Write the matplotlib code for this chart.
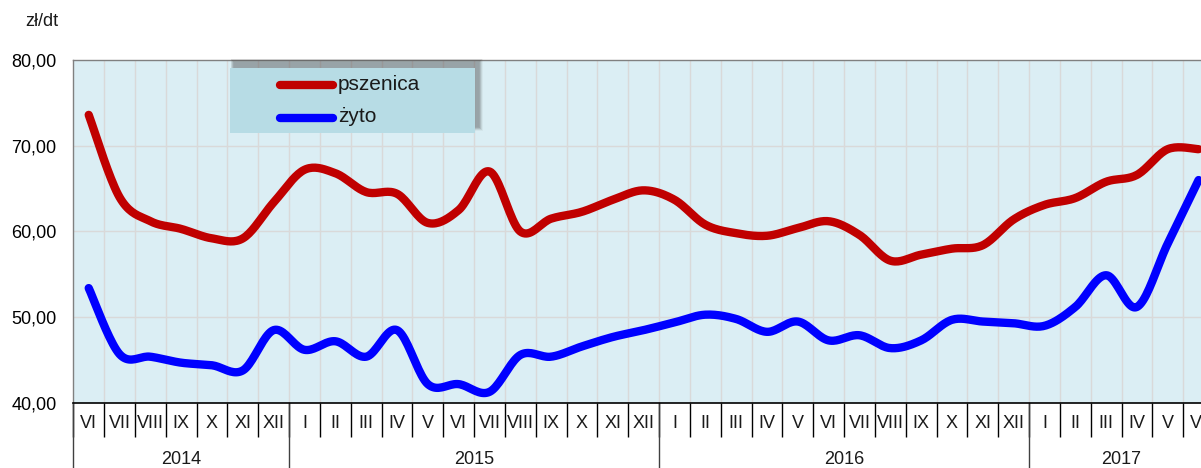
import numpy as np
import matplotlib
matplotlib.use('Agg')
import matplotlib.pyplot as plt
from matplotlib.transforms import blended_transform_factory
from matplotlib.patches import Rectangle
from matplotlib.lines import Line2D

plt.rcParams['font.family'] = ['Liberation Sans', 'DejaVu Sans']

# ---------------- data ----------------
months = ['VI', 'VII', 'VIII', 'IX', 'X', 'XI', 'XII',
          'I', 'II', 'III', 'IV', 'V', 'VI', 'VII', 'VIII', 'IX', 'X', 'XI', 'XII',
          'I', 'II', 'III', 'IV', 'V', 'VI', 'VII', 'VIII', 'IX', 'X', 'XI', 'XII',
          'I', 'II', 'III', 'IV', 'V', 'VI']
years = ['2014', '2015', '2016', '2017']
year_counts = [7, 12, 12, 6]

pszenica = [73.6, 64.0, 61.2, 60.3, 59.2, 59.2, 63.4,
            67.2, 66.8, 64.6, 64.4, 61.0, 62.5, 67.0, 60.0, 61.5, 62.3, 63.7, 64.8,
            63.7, 60.8, 59.8, 59.5, 60.4, 61.2, 59.6, 56.6, 57.3, 58.0, 58.4, 61.4,
            63.1, 63.9, 65.8, 66.6, 69.6, 69.6]
zyto = [53.4, 45.7, 45.4, 44.7, 44.4, 43.8, 48.5,
        46.2, 47.2, 45.4, 48.5, 42.2, 42.2, 41.3, 45.6, 45.4, 46.6, 47.7, 48.5,
        49.4, 50.3, 49.8, 48.3, 49.5, 47.3, 47.9, 46.4, 47.3, 49.7, 49.5, 49.3,
        49.0, 51.2, 54.9, 51.2, 58.6, 66.0]

yticks = [40, 50, 60, 70, 80]
ytick_labels = ['40,00', '50,00', '60,00', '70,00', '80,00']


def smooth(x, y, n=20):
    """Catmull-Rom (Excel-like) smoothing through the given points."""
    x = np.asarray(x, float)
    y = np.asarray(y, float)
    px = np.concatenate([[x[0]], x, [x[-1]]])
    py = np.concatenate([[y[0]], y, [y[-1]]])
    xs, ys = [], []
    t = np.linspace(0, 1, n, endpoint=False)
    for i in range(1, len(px) - 2):
        p0x, p1x, p2x, p3x = px[i - 1:i + 3]
        p0y, p1y, p2y, p3y = py[i - 1:i + 3]
        c1x, c1y = p1x + (p2x - p0x) / 6, p1y + (p2y - p0y) / 6
        c2x, c2y = p2x - (p3x - p1x) / 6, p2y - (p3y - p1y) / 6
        bx = (1 - t) ** 3 * p1x + 3 * (1 - t) ** 2 * t * c1x + 3 * (1 - t) * t ** 2 * c2x + t ** 3 * p2x
        by = (1 - t) ** 3 * p1y + 3 * (1 - t) ** 2 * t * c1y + 3 * (1 - t) * t ** 2 * c2y + t ** 3 * p2y
        xs.append(bx)
        ys.append(by)
    xs.append([x[-1]])
    ys.append([y[-1]])
    return np.concatenate(xs), np.concatenate(ys)


W, H = 1201, 468
fig = plt.figure(figsize=(W / 100, H / 100), dpi=100)
left_px, right_px, top_px, bot_px = 73.3, 1214.0, 60.0, 403.0
ax = fig.add_axes([left_px / W, 1 - bot_px / H, (right_px - left_px) / W, (bot_px - top_px) / H])
ax.set_facecolor('#DBEEF4')

n = len(months)
x = np.arange(n)
ax.set_xlim(-0.5, n - 0.5)
ax.set_ylim(40, 80)

# grid
for b in np.arange(0.5, n - 0.5, 1.0):
    ax.axvline(b, color='#D9D9D9', lw=1, zorder=1)
for yv in [50, 60, 70]:
    ax.axhline(yv, color='#D9D9D9', lw=1, zorder=1)

# lines
sx, sy = smooth(x, pszenica)
ax.plot(sx, sy, color='#C00000', lw=6, solid_capstyle='round', zorder=3)
sx, sy = smooth(x, zyto)
ax.plot(sx, sy, color='#0000FF', lw=6, solid_capstyle='round', zorder=3)

# y axis
ax.set_yticks(yticks)
ax.set_yticklabels(ytick_labels, fontsize=13)
ax.tick_params(axis='y', length=0, pad=12)

# x axis: separators as major ticks, labels as text
ax.set_xticks(np.arange(-0.5, n, 1.0))
ax.set_xticklabels([])
ax.tick_params(axis='x', length=24.5, width=1, color='#000000', direction='out')

trans = blended_transform_factory(ax.transData, ax.transAxes)
for i, m in enumerate(months):
    ax.text(i, (bot_px - 424) / (bot_px - top_px), m, transform=trans,
            ha='center', va='center', fontsize=13, color='#1a1a1a')

start = -0.5
for yr, cnt in zip(years, year_counts):
    ax.plot([start, start], [0, -0.25], transform=trans, color='#404040', lw=1, clip_on=False)
    ax.text(start + cnt / 2, (bot_px - 460) / (bot_px - top_px), yr, transform=trans,
            ha='center', va='center', fontsize=13, color='#1a1a1a')
    start += cnt

for s in ['left', 'top']:
    ax.spines[s].set_color('#808080')
    ax.spines[s].set_linewidth(1)
ax.spines['bottom'].set_color('#000000')
ax.spines['bottom'].set_linewidth(1.2)
ax.spines['right'].set_visible(False)

# unit label
fig.text(25 / W, 1 - 22 / H, 'zł/dt', fontsize=13, ha='left', va='center', color='#1a1a1a')

# legend (custom)
lx0, lx1, ly0, ly1 = 230, 475, 68, 133
for k in np.linspace(7, 0.5, 10):
    fig.add_artist(Rectangle(((lx0 + 4 - k / 2) / W, 1 - (ly1 - 6 + k / 2) / H),
                             (lx1 - lx0 + k) / W, (ly1 - ly0 + k) / H,
                             transform=fig.transFigure, facecolor='#404040', edgecolor='none',
                             alpha=0.05, zorder=5))
fig.add_artist(Rectangle((lx0 / W, 1 - ly1 / H), (lx1 - lx0) / W, (ly1 - ly0) / H,
                         transform=fig.transFigure, facecolor='#B7DCE5', edgecolor='none', zorder=6))
for yy, col, lab in [(85, '#C00000', 'pszenica'), (118, '#0000FF', 'żyto')]:
    fig.add_artist(Line2D([280 / W, 333 / W], [1 - yy / H, 1 - yy / H], transform=fig.transFigure,
                          color=col, lw=6, solid_capstyle='round', zorder=7))
    fig.text(338 / W, 1 - (yy - 1) / H, lab, fontsize=15, ha='left', va='center', color='#1a1a1a', zorder=7)

fig.savefig('out.png', dpi=100)
